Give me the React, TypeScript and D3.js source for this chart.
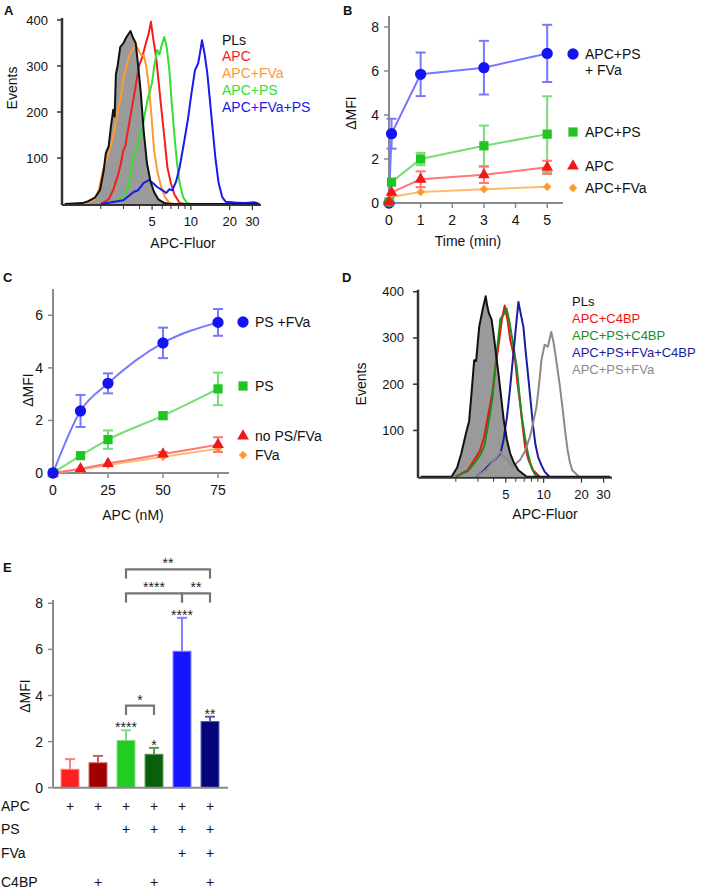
import React from "react";
import * as d3 from "d3";

const FONT = "'Liberation Sans', Arial, Helvetica, sans-serif";

// ---------------- Panel A: histograms (fluorescence, events) ----------------
const aPLs: [number, number][] = [[1.05,0],[1.44,2],[1.6,6],[1.8,14],[1.97,30],[2.1,70],[2.19,111],[2.3,125],[2.4,170],[2.5,205],[2.56,190],[2.62,282],[2.7,300],[2.83,341],[3.0,350],[3.15,362],[3.4,376],[3.55,362],[3.73,350],[3.9,300],[4.09,241],[4.3,160],[4.56,89],[4.85,50],[5.18,26],[5.6,10],[6.22,2],[7,0],[34,0]];
const aAPC: [number, number][] = [[2.0,0],[2.3,10],[2.49,30],[2.7,60],[2.85,85],[2.99,117],[3.1,125],[3.2,150],[3.46,204],[3.7,250],[3.94,298],[4.2,320],[4.48,350],[4.7,370],[4.9,396],[5.1,360],[5.37,320],[5.6,270],[5.88,211],[6.2,150],[6.57,80],[7.0,45],[7.47,20],[8.18,2],[9,0]];
const aAPCFVa: [number, number][] = [[1.5,0],[1.8,10],[1.95,35],[2.08,74],[2.3,110],[2.49,146],[2.7,200],[2.85,230],[2.99,270],[3.3,320],[3.5,335],[3.73,346],[4.0,330],[4.16,322],[4.31,324],[4.5,300],[4.73,254],[4.95,190],[5.18,117],[5.5,70],[5.88,37],[6.3,15],[6.81,2],[7.5,0]];
const aAPCPS: [number, number][] = [[2.4,0],[3.0,15],[3.3,40],[3.59,102],[3.9,130],[4.31,183],[4.6,225],[4.99,263],[5.2,300],[5.47,335],[5.7,325],[5.88,341],[6.22,363],[6.5,340],[6.81,291],[7.1,220],[7.47,146],[7.8,90],[8.18,46],[8.7,15],[9.3,2],[10,0]];
const aAPCFVaPS: [number, number][] = [[2.0,0],[3.0,8],[3.59,26],[3.9,30],[4.31,46],[4.73,52],[5.1,45],[5.47,37],[6.0,30],[6.45,24],[6.8,32],[7.2,30],[7.7,50],[8.18,80],[8.8,130],[9.47,183],[10.1,240],[10.76,291],[11.4,306],[11.8,330],[12.2,356],[12.8,325],[13.4,285],[14.0,230],[14.7,167],[15.5,100],[16.4,46],[17.5,15],[18.6,5],[22,3],[26,2],[31,4],[34,0]];
const aLabels = ["PLs", "APC", "APC+FVa", "APC+PS", "APC+FVa+PS"];

// ---------------- Panel D: histograms ----------------
const dPLs: [number, number][] = [[1.05,0],[1.85,0],[2.05,20],[2.21,50],[2.41,94],[2.55,120],[2.64,166],[2.8,252],[2.9,250],[3.07,324],[3.26,360],[3.46,390],[3.55,370],[3.67,353],[3.85,340],[4.02,303],[4.2,260],[4.4,216],[4.6,170],[4.81,123],[5.1,80],[5.42,50],[5.8,30],[6.3,14],[7.33,0],[34,0]];
const dAPCC4BP: [number, number][] = [[2.0,0],[2.5,15],[2.8,36],[3.1,55],[3.36,86],[3.6,130],[3.9,180],[4.15,240],[4.4,288],[4.65,340],[4.9,370],[5.15,340],[5.42,296],[5.7,270],[5.93,252],[6.2,200],[6.49,159],[6.8,110],[7.11,65],[7.6,35],[8.25,14],[9.31,0]];
const dAPCPSC4BP: [number, number][] = [[2.0,0],[2.5,12],[2.8,29],[3.1,45],[3.36,65],[3.6,110],[3.9,166],[4.2,260],[4.53,342],[4.8,350],[5.05,364],[5.3,340],[5.59,303],[6.1,238],[6.4,180],[6.7,130],[7.1,85],[7.5,50],[8.0,20],[8.5,5],[9.2,0]];
const dAPCPSFVaC4BP: [number, number][] = [[2.9,0],[3.4,15],[3.79,29],[4.2,40],[4.53,50],[4.8,80],[5.11,130],[5.4,190],[5.75,267],[6.0,320],[6.3,378],[6.6,350],[6.9,324],[7.2,270],[7.54,216],[7.9,160],[8.25,108],[8.6,70],[9.03,43],[9.6,25],[10.18,11],[11.1,0]];
const dAPCPSFVa: [number, number][] = [[2.9,0],[3.5,15],[4.02,36],[4.3,45],[4.53,54],[4.8,42],[5.11,40],[5.4,30],[5.75,22],[6.1,30],[6.49,36],[7.1,55],[7.78,86],[8.3,120],[8.77,151],[9.2,200],[9.6,252],[10.18,285],[10.8,281],[11.2,300],[11.5,313],[12.0,290],[12.6,252],[13.4,200],[14.2,144],[14.8,100],[15.5,58],[16.2,30],[16.9,14],[19.1,0]];
const dLabels = ["PLs", "APC+C4BP", "APC+PS+C4BP", "APC+PS+FVa+C4BP", "APC+PS+FVa"];

const histMajorTicks = [5, 10, 20, 30];
const histMinorTicks = [2, 3, 4, 6, 7, 8, 9];
const eventTicks = [100, 200, 300, 400];

// ---------------- Panel B: time course ----------------
const timeB = [0, 0.08, 1, 3, 5];
const bPSFVa = [0, 3.15, 5.85, 6.15, 6.8];
const bPSFVaErr = [0, 0.68, 0.99, 1.22, 1.3];
const bPS = [0.05, 0.95, 2.0, 2.6, 3.13];
const bPSErr = [0, 0.05, 0.28, 0.92, 1.72];
const bAPC = [0.05, 0.48, 1.08, 1.28, 1.62];
const bAPCErr = [0, 0.05, 0.36, 0.37, 0.3];
const bFVa = [0, 0.28, 0.5, 0.63, 0.74];
const bFVaErr = [0, 0.03, 0.05, 0.05, 0.05];
const bTicksX = [0, 1, 2, 3, 4, 5];
const bTicksY = [0, 2, 4, 6, 8];

// ---------------- Panel C: APC titration ----------------
const concC = [0, 12.5, 25, 50, 75];
const cPSFVa = [0, 2.36, 3.41, 4.95, 5.73];
const cPSFVaErr = [0, 0.61, 0.38, 0.58, 0.51];
const cPS = [0, 0.66, 1.27, 2.18, 3.2];
const cPSErr = [0, 0.05, 0.35, 0.12, 0.62];
const cNone = [0, 0.16, 0.36, 0.72, 1.08];
const cNoneErr = [0, 0.05, 0.05, 0.08, 0.28];
const cFVa = [0, 0.13, 0.3, 0.62, 0.92];
const cFVaErr = [0, 0.03, 0.03, 0.05, 0.06];
const cTicksX = [0, 25, 50, 75];
const cTicksY = [0, 2, 4, 6];

// ---------------- Panel E: bars ----------------
const eValues = [0.8, 1.08, 2.05, 1.45, 5.92, 2.87];
const eErr = [0.44, 0.3, 0.44, 0.28, 1.45, 0.21];
const eStars = ["", "", "****", "*", "****", "**"];
const eTicksY = [0, 2, 4, 6, 8];
const rowNames = ["APC", "PS", "FVa", "C4BP"];
const rowAPC = [1, 1, 1, 1, 1, 1];
const rowPS = [0, 0, 1, 1, 1, 1];
const rowFVa = [0, 0, 0, 0, 1, 1];
const rowC4BP = [0, 1, 0, 1, 0, 1];
// brackets: [from bar, to bar, top value, leg value, label]
const eBrackets: [number, number, number, number, string][] = [
  [2, 3, 3.56, 3.15, "*"],
  [2, 4, 8.43, 8.03, "****"],
  [4, 5, 8.43, 8.03, "**"],
  [2, 5, 9.47, 9.08, "**"],
];

type Pt = [number, number];

function Histogram(props: {
  x0: number; x1: number; yBase: number; yTop: number;
  series: Pt[][]; colors: string[]; labels: string[];
  legendX: number; legendY: number; legendStep: number; legendSize: number;
  titleX: number; titleY: number; eventsX: number; eventsY: number;
}) {
  const { x0, x1, yBase, yTop, series, colors } = props;
  const x = d3.scaleLog().domain([1, 35]).range([x0, x1]);
  const y = d3.scaleLinear().domain([0, 400]).range([yBase, yTop]);
  const line = d3.line<Pt>().x((d) => x(d[0])).y((d) => y(d[1]));
  const area = d3.area<Pt>().x((d) => x(d[0])).y0(yBase).y1((d) => y(d[1]));
  const axisColor = "#333";
  return (
    <g fontFamily={FONT}>
      <path d={area(series[0]) || ""} fill="#9a9a9a" />
      {series.slice(1).map((s, i) => (
        <path key={i} d={line(s) || ""} fill="none" stroke={colors[i + 1]} strokeWidth={2} strokeLinejoin="round" />
      ))}
      <path d={line(series[0]) || ""} fill="none" stroke={colors[0]} strokeWidth={2} strokeLinejoin="round" />
      <line x1={x0} x2={x1} y1={yBase + 1} y2={yBase + 1} stroke={axisColor} strokeWidth={2} />
      <line x1={x0} x2={x0} y1={yBase + 1} y2={yTop - 2} stroke={axisColor} strokeWidth={2.5} />
      {eventTicks.map((t) => (
        <g key={t}>
          <line x1={x0 - 5} x2={x0} y1={y(t)} y2={y(t)} stroke={axisColor} strokeWidth={1.5} />
          <text x={x0 - 14} y={y(t) + 4.5} textAnchor="end" fontSize={13} fill="#111">{t}</text>
        </g>
      ))}
      {histMajorTicks.map((t) => (
        <g key={t}>
          <line x1={x(t)} x2={x(t)} y1={yBase + 1} y2={yBase + 6} stroke={axisColor} strokeWidth={1.2} />
          <text x={x(t)} y={yBase + 22} textAnchor="middle" fontSize={13} fill="#111">{t}</text>
        </g>
      ))}
      {histMinorTicks.map((t) => (
        <line key={t} x1={x(t)} x2={x(t)} y1={yBase + 1} y2={yBase + 5} stroke={axisColor} strokeWidth={1} />
      ))}
      <text x={props.titleX} y={props.titleY} textAnchor="middle" fontSize={14} fill="#111">APC-Fluor</text>
      <text transform={`translate(${props.eventsX},${props.eventsY}) rotate(-90)`} textAnchor="middle" fontSize={14} fill="#111">Events</text>
      {props.labels.map((l, i) => (
        <text key={l} x={props.legendX} y={props.legendY + i * props.legendStep} fontSize={props.legendSize} fill={colors[i]}>{l}</text>
      ))}
    </g>
  );
}

type Series = { v: number[]; e: number[]; color: string; light: string; shape: d3.SymbolType; size: number; rot: number };

function marker(s: Series, cx: number, cy: number, key: string) {
  return (
    <path key={key} transform={`translate(${cx},${cy}) rotate(${s.rot})`} d={d3.symbol().type(s.shape).size(s.size)() || ""} fill={s.color} />
  );
}

function LinePanel(props: {
  xs: number[]; xDomain: [number, number]; xRange: [number, number];
  yDomain: [number, number]; yRange: [number, number];
  series: Series[]; ticksX: number[]; ticksY: number[]; curve: d3.CurveFactory;
  xTitle: string; xTitleX: number; xTitleY: number; yTitleX: number; yTitleY: number;
  legend: { label: string[]; y: number; si: number }[]; legendMarkX: number; legendTextX: number;
}) {
  const x = d3.scaleLinear().domain(props.xDomain).range(props.xRange);
  const y = d3.scaleLinear().domain(props.yDomain).range(props.yRange);
  const line = d3.line<number>().x((_, i) => x(props.xs[i])).y((d) => y(d)).curve(props.curve);
  const ac = "#8a8a8a";
  const [xa, xb] = props.xRange;
  const [ya, yb] = props.yRange;
  return (
    <g fontFamily={FONT}>
      <line x1={xa} x2={xb} y1={ya} y2={ya} stroke={ac} strokeWidth={2} />
      <line x1={xa} x2={xa} y1={ya} y2={yb} stroke={ac} strokeWidth={2} />
      {props.ticksY.map((t) => (
        <g key={t}>
          <line x1={xa - 5} x2={xa} y1={y(t)} y2={y(t)} stroke={ac} strokeWidth={1.5} />
          <text x={xa - 10} y={y(t) + 5} textAnchor="end" fontSize={14} fill="#111">{t}</text>
        </g>
      ))}
      {props.ticksX.map((t) => (
        <g key={t}>
          <line x1={x(t)} x2={x(t)} y1={ya} y2={ya + 5} stroke={ac} strokeWidth={1.5} />
          <text x={x(t)} y={ya + 22} textAnchor="middle" fontSize={14} fill="#111">{t}</text>
        </g>
      ))}
      <text x={props.xTitleX} y={props.xTitleY} textAnchor="middle" fontSize={14} fill="#111">{props.xTitle}</text>
      <text transform={`translate(${props.yTitleX},${props.yTitleY}) rotate(-90)`} textAnchor="middle" fontSize={14} fill="#111">ΔMFI</text>
      {props.series.map((s, si) => (
        <g key={si}>
          <path d={line(s.v) || ""} fill="none" stroke={s.light} strokeWidth={2} />
          {s.v.map((v, i) =>
            s.e[i] > 0.06 ? (
              <g key={i} stroke={s.light} strokeWidth={2}>
                <line x1={x(props.xs[i])} x2={x(props.xs[i])} y1={y(v - s.e[i])} y2={y(v + s.e[i])} />
                <line x1={x(props.xs[i]) - 5} x2={x(props.xs[i]) + 5} y1={y(v - s.e[i])} y2={y(v - s.e[i])} />
                <line x1={x(props.xs[i]) - 5} x2={x(props.xs[i]) + 5} y1={y(v + s.e[i])} y2={y(v + s.e[i])} />
              </g>
            ) : null
          )}
          {s.v.map((v, i) => marker(s, x(props.xs[i]), y(v), "m" + i))}
        </g>
      ))}
      {props.legend.map((l, li) => {
        const s = props.series[l.si];
        return (
          <g key={li}>
            {marker(s, props.legendMarkX, l.y, "lm")}
            {l.label.map((t, ti) => (
              <text key={ti} x={props.legendTextX} y={l.y + 5 + ti * 16} fontSize={14} fill="#111">{t}</text>
            ))}
          </g>
        );
      })}
    </g>
  );
}

function BarPanel() {
  const idx = eValues.map((_, i) => i);
  const x = d3.scaleBand<number>().domain(idx).range([56, 224]).paddingInner(0.36).paddingOuter(0.18);
  const y = d3.scaleLinear().domain([0, 8]).range([787.7, 603.3]);
  const cx = (i: number) => (x(i) || 0) + x.bandwidth() / 2;
  const colors = ["#ff1f1f", "#a00000", "#22cc22", "#0a600a", "#1515ff", "#05057a"];
  const light = ["#ff8080", "#c86060", "#80e080", "#5a9a5a", "#8080ff", "#5a5aaa"];
  const ac = "#8a8a8a";
  const rows = [rowAPC, rowPS, rowFVa, rowC4BP];
  const rowY = [811, 834, 858, 887];
  return (
    <g fontFamily={FONT}>
      {eValues.map((v, i) => (
        <g key={i}>
          <line x1={cx(i)} x2={cx(i)} y1={y(v)} y2={y(v + eErr[i])} stroke={light[i]} strokeWidth={2} />
          <line x1={cx(i) - 5} x2={cx(i) + 5} y1={y(v + eErr[i])} y2={y(v + eErr[i])} stroke={light[i]} strokeWidth={2} />
          <rect x={x(i)} y={y(v)} width={x.bandwidth()} height={y(0) - y(v)} fill={colors[i]} stroke={light[i]} strokeWidth={1} />
          {eStars[i] ? (
            <text x={cx(i)} y={y(v + eErr[i]) + 2} textAnchor="middle" fontSize={14} fill="#222">{eStars[i]}</text>
          ) : null}
        </g>
      ))}
      <line x1={53} x2={228} y1={787.7} y2={787.7} stroke={ac} strokeWidth={2} />
      <line x1={53} x2={53} y1={787.7} y2={600} stroke={ac} strokeWidth={2} />
      {eTicksY.map((t) => (
        <g key={t}>
          <line x1={48} x2={53} y1={y(t)} y2={y(t)} stroke={ac} strokeWidth={1.5} />
          <text x={43} y={y(t) + 5} textAnchor="end" fontSize={14} fill="#111">{t}</text>
        </g>
      ))}
      <text transform="translate(30,696) rotate(-90)" textAnchor="middle" fontSize={14} fill="#111">ΔMFI</text>
      {eBrackets.map(([a, b, top, leg, lab], i) => (
        <g key={i}>
          <path d={`M${cx(a)},${y(leg)}V${y(top)}H${cx(b)}V${y(leg)}`} fill="none" stroke="#777" strokeWidth={2.2} />
          <text x={(cx(a) + cx(b)) / 2} y={y(top) - 1} textAnchor="middle" fontSize={14} fill="#222">{lab}</text>
        </g>
      ))}
      {rowNames.map((n, r) => (
        <g key={n}>
          <text x={1} y={rowY[r]} fontSize={14} fill="#111">{n}</text>
          {rows[r].map((on, i) => (on ? <text key={i} x={cx(i)} y={rowY[r]} textAnchor="middle" fontSize={14} fill="#111">+</text> : null))}
        </g>
      ))}
    </g>
  );
}

export default function App() {
  const blue: Series = { v: [], e: [], color: "#1414f0", light: "#7777ff", shape: d3.symbolCircle, size: 100, rot: 0 };
  const green: Series = { v: [], e: [], color: "#22c422", light: "#77dd77", shape: d3.symbolSquare, size: 85, rot: 0 };
  const red: Series = { v: [], e: [], color: "#f01818", light: "#ff7777", shape: d3.symbolTriangle, size: 60, rot: 0 };
  const orange: Series = { v: [], e: [], color: "#ff9a2a", light: "#ffbb70", shape: d3.symbolSquare, size: 36, rot: 45 };
  const bSeries: Series[] = [
    { ...blue, v: bPSFVa, e: bPSFVaErr },
    { ...orange, v: bFVa, e: bFVaErr },
    { ...green, v: bPS, e: bPSErr },
    { ...red, v: bAPC, e: bAPCErr },
  ];
  const cSeries: Series[] = [
    { ...orange, v: cFVa, e: cFVaErr },
    { ...red, v: cNone, e: cNoneErr },
    { ...green, v: cPS, e: cPSErr },
    { ...blue, v: cPSFVa, e: cPSFVaErr },
  ];
  return (
    <svg width={709} height={891} style={{ position: "absolute", left: 0, top: 0, background: "#fff" }}>
      <rect width={709} height={891} fill="#fff" />
      <g fontFamily={FONT} fontWeight="bold" fontSize={13} fill="#111">
        <text x={4} y={15}>A</text>
        <text x={343} y={15}>B</text>
        <text x={3} y={282}>C</text>
        <text x={342} y={282}>D</text>
        <text x={3} y={572}>E</text>
      </g>
      <Histogram
        x0={62} x1={261} yBase={204} yTop={20}
        series={[aPLs, aAPC, aAPCFVa, aAPCPS, aAPCFVaPS]}
        colors={["#111", "#f41c1c", "#ff9933", "#33e033", "#1a1aee"]}
        labels={aLabels}
        legendX={222} legendY={44.5} legendStep={16.8} legendSize={14}
        titleX={183} titleY={248} eventsX={17} eventsY={88}
      />
      <Histogram
        x0={418} x1={612} yBase={476.7} yTop={291.7}
        series={[dPLs, dAPCC4BP, dAPCPSC4BP, dAPCPSFVaC4BP, dAPCPSFVa]}
        colors={["#111", "#ee1111", "#1f8a1f", "#1c1ca0", "#8a8a8a"]}
        labels={dLabels}
        legendX={572} legendY={306} legendStep={17.1} legendSize={13}
        titleX={545} titleY={519} eventsX={366} eventsY={384}
      />
      <LinePanel
        xs={timeB} xDomain={[0, 5.5]} xRange={[389, 563]} yDomain={[0, 8.5]} yRange={[203, 16]}
        series={bSeries} ticksX={bTicksX} ticksY={bTicksY} curve={d3.curveLinear}
        xTitle="Time (min)" xTitleX={468} xTitleY={246} yTitleX={356} yTitleY={113}
        legend={[
          { label: ["APC+PS", "+ FVa"], y: 54, si: 0 },
          { label: ["APC+PS"], y: 132, si: 2 },
          { label: ["APC"], y: 166, si: 3 },
          { label: ["APC+FVa"], y: 188, si: 1 },
        ]}
        legendMarkX={573} legendTextX={585}
      />
      <LinePanel
        xs={concC} xDomain={[0, 80]} xRange={[53, 229]} yDomain={[0, 7]} yRange={[473, 289]}
        series={cSeries} ticksX={cTicksX} ticksY={cTicksY} curve={d3.curveMonotoneX}
        xTitle="APC (nM)" xTitleX={133} xTitleY={520} yTitleX={33} yTitleY={390}
        legend={[
          { label: ["PS +FVa"], y: 322, si: 3 },
          { label: ["PS"], y: 386, si: 2 },
          { label: ["no PS/FVa"], y: 436, si: 1 },
          { label: ["FVa"], y: 455, si: 0 },
        ]}
        legendMarkX={243} legendTextX={255}
      />
      <BarPanel />
    </svg>
  );
}
